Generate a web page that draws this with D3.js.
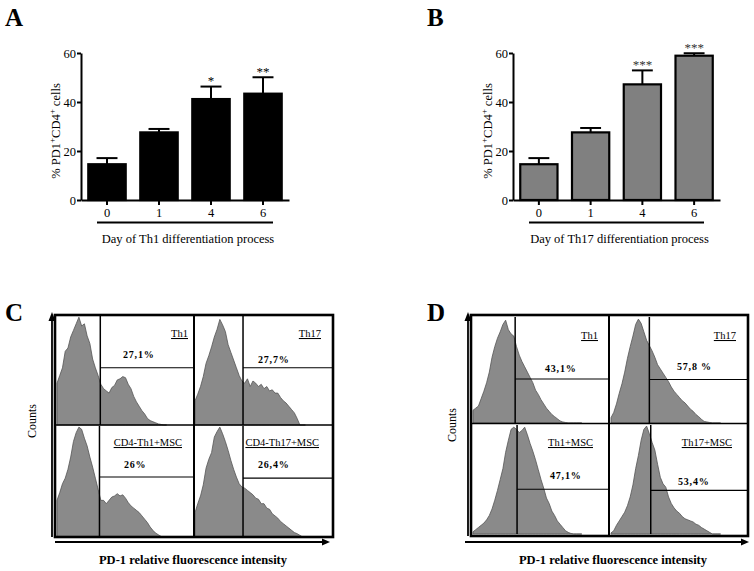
<!DOCTYPE html>
<html><head><meta charset="utf-8">
<script src="https://cdn.jsdelivr.net/npm/d3@7"></script>
<style>body{margin:0;background:#fff} svg{display:block;font-family:"Liberation Serif","Times New Roman",serif}</style>
</head><body><svg id="c" width="754" height="571"></svg>
<script>
// ---------- DATA ----------
const days = ["0","1","4","6"];
const yTicks = [0,20,40,60];
const th1Mean = [14.6, 27.6, 41.2, 43.4];
const th1Err  = [2.5, 1.4, 5.1, 6.7];
const th1Stars = ["", "", "*", "**"];
const th17Mean = [14.6, 27.6, 47.2, 58.9];
const th17Err  = [2.5, 1.8, 5.7, 1.0];
const th17Stars = ["", "", "***", "***"];

// histogram channels (relative fluorescence, 0-100 scale) and counts (% of max)
const channels = [0,2,4,6,8,10,12,14,16,18,20,22,24,26,28,30,32,34,36,38,40,42,44,46,48,50,52,54,56,58,60,62,64,66,68,70,72,74,76,78,80];
const cTh1      = [38,45,52,67,70,80,86,92,98,90,92,81,74,60,52,45,37,33,31,29,34,36,41,42,44,43,37,33,26,21,17,13,10,6,4,3,2,1,0.5,0,0];
const cTh17     = [22,28,35,44,56,63,71,80,87,96,91,85,73,66,59,52,45,40,38,42,35,40,38,35,37,33,35,31,32,29,29,25,22,20,17,14,11,6,0,0,0];
const cTh1Msc   = [33,40,48,53,61,72,86,94,99,97,89,82,72,63,53,43,33,33,30,33,36,37,39,37,38,35,31,28,26,24,22,19,16,13,9,6,3.5,2,0.5,0,0];
const cTh17Msc  = [22,30,37,47,62,70,76,90,95,99,93,86,78,69,61,54,48,45,44,42,40,38,35,34,30,30,26,25,21,19,17,14,12,10,8,6,4,3,1.5,0,0];
const dTh1      = [12,14,16,23,30,38,48,62,72,80,86,93,97,88,84,82,72,64,58,53,48,43,38,31,27,22,18,14,11,8,6,4,2,1,0.5,0,0,0,0,0,0];
const dTh17     = [5,10,18,28,37,48,61,72,82,93,98,94,86,78,73,68,62,55,51,47,43,39,34,30,27,24,21,19,16,13,11,8,6,3.5,1.5,1,0.5,0,0,0,0];
const dTh1Msc   = [2,4,6,8,10,13,17,23,31,40,50,60,75,86,96,98,96,93,95,98,91,83,76,68,59,50,42,33,28,21,17,12,9,6,3,1.5,0.5,0,0,0,0];
const dTh17Msc  = [1,3,8,12,16,20,26,34,45,60,72,86,96,99,92,84,77,64,52,46,43,34,28,24,21,19,16,14,13,12,11,9,8,6,4.5,3,1.5,0,0,0,0];

const cNames = ["Th1","Th17","CD4-Th1+MSC","CD4-Th17+MSC"];
const cPct   = ["27,1%","27,7%","26%","26,4%"];
const cGates = [31.6, 34.8, 31, 34.8];
const cLevels = [52, 52, 54, 53];
const dNames = ["Th1","Th17","Th1+MSC","Th17+MSC"];
const dPct   = ["43,1%","57,8 %","47,1%","53,4%"];
const dGates = [31, 28, 32.4, 29];
const dLevels = [41.5, 41, 41, 40];

// ---------- DRAW ----------
const svg = d3.select("#c");

function letter(t, x, y){
  svg.append("text").attr("x",x).attr("y",y).attr("font-size",25).attr("font-weight","bold").text(t);
}

function barPanel(o){
  const g = svg.append("g");
  const x = d3.scaleBand().domain(days).range([o.x0, o.x1]);
  const y = d3.scaleLinear().domain([0,60]).range([200,53]);
  const w = x.bandwidth()*0.72;
  const bars = g.selectAll(".bar").data(days).enter().append("g");
  bars.append("line")
    .attr("x1", d=>x(d)+x.bandwidth()/2).attr("x2", d=>x(d)+x.bandwidth()/2)
    .attr("y1", (d,i)=>y(o.mean[i])).attr("y2",(d,i)=>y(o.mean[i]+o.err[i]))
    .attr("stroke","#000").attr("stroke-width",2);
  bars.append("line")
    .attr("x1", d=>x(d)+x.bandwidth()/2-w*0.28).attr("x2", d=>x(d)+x.bandwidth()/2+w*0.28)
    .attr("y1", (d,i)=>y(o.mean[i]+o.err[i])).attr("y2",(d,i)=>y(o.mean[i]+o.err[i]))
    .attr("stroke","#000").attr("stroke-width",2);
  bars.append("rect")
    .attr("x", d=>x(d)+(x.bandwidth()-w)/2).attr("width", w)
    .attr("y", (d,i)=>y(o.mean[i])).attr("height",(d,i)=>y(0)-y(o.mean[i]))
    .attr("fill", o.fill).attr("stroke","#000").attr("stroke-width",2.2);
  bars.append("text")
    .attr("x", d=>x(d)+x.bandwidth()/2).attr("y",(d,i)=>y(o.mean[i]+o.err[i])-1.5)
    .attr("text-anchor","middle").attr("font-size",13).attr("fill", o.starFill)
    .text((d,i)=>o.stars[i]);

  const ya = g.append("g").attr("transform",`translate(${o.x0},0)`)
    .call(d3.axisLeft(y).tickValues(yTicks).tickSize(4).tickSizeOuter(0).tickPadding(1));
  const xa = g.append("g").attr("transform",`translate(0,200)`)
    .call(d3.axisBottom(x).tickSize(5).tickSizeOuter(0).tickPadding(3));
  [ya,xa].forEach(a=>{
    a.selectAll("path,line").attr("stroke","#000").attr("stroke-width",2);
    a.selectAll("text").attr("font-size",12.5).attr("fill","#000").attr("font-family","Liberation Serif, serif");
  });
  g.append("line").attr("x1",o.x0+16).attr("x2",o.x1-16).attr("y1",222.5).attr("y2",222.5)
    .attr("stroke","#000").attr("stroke-width",2);
  g.append("text").attr("x",(o.x0+o.x1)/2+3).attr("y",243).attr("text-anchor","middle")
    .attr("font-size",12.5).text(o.xlabel);
  const yl = g.append("text").attr("transform",`translate(${o.x0-21},131) rotate(-90)`)
    .attr("text-anchor","middle").attr("font-size",12.5);
  yl.append("tspan").text("% PD1");
  yl.append("tspan").attr("baseline-shift","super").attr("font-size",9).text("+");
  yl.append("tspan").text("CD4");
  yl.append("tspan").attr("baseline-shift","super").attr("font-size",9).text("+");
  yl.append("tspan").text(" cells");
}

letter("A",5,26);
letter("B",427,26);
barPanel({x0:81,x1:289,mean:th1Mean,err:th1Err,stars:th1Stars,fill:"#000",starFill:"#000",
  xlabel:"Day of Th1 differentiation process"});
barPanel({x0:513,x1:720,mean:th17Mean,err:th17Err,stars:th17Stars,fill:"#808080",starFill:"#333",
  xlabel:"Day of Th17 differentiation process"});

// flow cytometry panels
function flowPanel(o){
  const g = svg.append("g");
  o.subs.forEach((s,i)=>{
    const x = d3.scaleLinear().domain([0,100]).range(s.xr);
    const y = d3.scaleLinear().domain([0,100]).range(s.yr);
    const area = d3.area().x((d,j)=>x(channels[j])).y0(y(0)).y1(d=>y(d)).curve(d3.curveLinear);
    g.append("path").datum(o.hists[i]).attr("d",area)
      .attr("fill","#8a8a8a").attr("stroke","#555").attr("stroke-width",0.8);
    // gate
    g.append("line").attr("x1",x(o.gates[i])).attr("x2",x(o.gates[i]))
      .attr("y1",s.yr[1]).attr("y2",s.yr[0]).attr("stroke","#000").attr("stroke-width",1.5);
    g.append("line").attr("x1",x(o.gates[i])).attr("x2",s.xr[1])
      .attr("y1",y(o.levels[i])).attr("y2",y(o.levels[i])).attr("stroke","#000").attr("stroke-width",1.1);
    g.append("text").attr("x",s.nx).attr("y",s.ny).attr("text-anchor","end")
      .attr("font-size",10.5).attr("text-decoration","underline").text(o.names[i]);
    g.append("text").attr("x",s.px).attr("y",s.py).attr("font-size",10)
      .attr("font-weight","bold").attr("letter-spacing",0.8).text(o.pct[i]);
  });
  // frame
  const f = o.frame;
  g.append("rect").attr("x",f[0]).attr("y",f[1]).attr("width",f[2]-f[0]).attr("height",f[3]-f[1])
    .attr("fill","none").attr("stroke","#000").attr("stroke-width",2.6);
  g.append("line").attr("x1",o.midX).attr("x2",o.midX).attr("y1",f[1]).attr("y2",f[3])
    .attr("stroke","#000").attr("stroke-width",2);
  g.append("line").attr("x1",f[0]).attr("x2",f[2]).attr("y1",o.midY).attr("y2",o.midY)
    .attr("stroke","#000").attr("stroke-width",1.5);
  // axes arrows
  g.append("line").attr("x1",o.ax).attr("x2",o.ax).attr("y1",f[3]).attr("y2",f[1]+3)
    .attr("stroke","#000").attr("stroke-width",1.8);
  g.append("path").attr("d",`M${o.ax-3.5},${f[1]+6}L${o.ax},${f[1]-3}L${o.ax+3.5},${f[1]+6}Z`).attr("fill","#000");
  g.append("line").attr("x1",o.axX0).attr("x2",o.axX1-6).attr("y1",542).attr("y2",542)
    .attr("stroke","#000").attr("stroke-width",1.8);
  g.append("path").attr("d",`M${o.axX1-8},538.5L${o.axX1},542L${o.axX1-8},545.5Z`).attr("fill","#000");
  g.append("text").attr("transform",`translate(${o.countsX},${o.countsY}) rotate(-90)`)
    .attr("text-anchor","middle").attr("font-size",12).text("Counts");
  g.append("text").attr("x",o.titleX).attr("y",564).attr("text-anchor","middle")
    .attr("font-size",12.5).attr("font-weight","bold").text("PD-1 relative fluorescence intensity");
}

letter("C",5,321);
letter("D",427,321);
flowPanel({
  hists:[cTh1,cTh17,cTh1Msc,cTh17Msc], gates:cGates, levels:cLevels, names:cNames, pct:cPct,
  subs:[
    {xr:[57,194],yr:[425,315],nx:188,ny:337,px:123,py:358},
    {xr:[195,333],yr:[425,315],nx:321,ny:337,px:258,py:363},
    {xr:[57,194],yr:[537,426],nx:182,ny:446,px:124,py:468},
    {xr:[195,333],yr:[537,426],nx:319,ny:446,px:258,py:468}
  ],
  frame:[55,315,333,537], midX:194, midY:425, ax:52, axX0:55, axX1:330,
  countsX:36, countsY:421, titleX:193
});
flowPanel({
  hists:[dTh1,dTh17,dTh1Msc,dTh17Msc], gates:dGates, levels:dLevels, names:dNames, pct:dPct,
  subs:[
    {xr:[473,609],yr:[423,317],nx:598,ny:339,px:545,py:372},
    {xr:[611,748],yr:[423,317],nx:736,ny:339,px:677,py:370},
    {xr:[473,609],yr:[534,425],nx:593,ny:446,px:550,py:479},
    {xr:[611,748],yr:[534,425],nx:732,ny:446,px:678,py:485}
  ],
  frame:[471,315,748,536], midX:609, midY:423.5, ax:468, axX0:465, axX1:749,
  countsX:456, countsY:425, titleX:613
});
</script></body></html>
